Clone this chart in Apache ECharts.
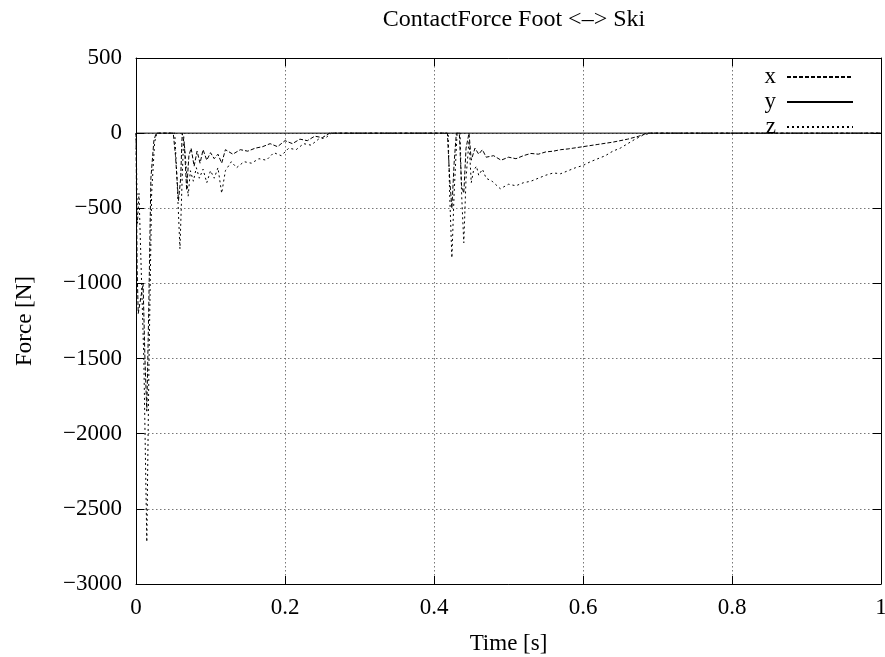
<!DOCTYPE html>
<html><head><meta charset="utf-8">
<script src="https://cdn.jsdelivr.net/npm/echarts@6/dist/echarts.min.js"></script>
<style>html,body{margin:0;padding:0;background:#fff}#c{width:885px;height:657px}</style>
</head><body><div id="c"></div>
<script>
var xSeries = [[0,0],[0.0015,-900],[0.003,-1200],[0.0095,-1000],[0.012,-1500],[0.0145,-1850],[0.017,-1200],[0.02,-300],[0.024,-50],[0.027,0],[0.05,0],
[0.053,-150],[0.057,-450],[0.06,-300],[0.062,0],[0.065,-80],[0.068,-380],[0.071,-150],[0.074,-100],[0.078,-220],[0.082,-120],[0.086,-200],[0.09,-110],[0.095,-180],[0.1,-130],[0.105,-170],[0.11,-140],[0.115,-200],[0.12,-110],[0.13,-140],[0.14,-110],[0.15,-120],[0.16,-100],[0.17,-90],[0.18,-70],[0.19,-90],[0.2,-50],[0.21,-70],[0.22,-40],[0.23,-50],[0.24,-20],[0.25,-30],[0.26,0],
[0.418,0],[0.421,-300],[0.424,-500],[0.427,-200],[0.43,0],[0.434,0],[0.437,-350],[0.44,-400],[0.443,-100],[0.447,0],[0.45,-180],[0.455,-100],[0.46,-140],[0.465,-110],[0.47,-160],[0.48,-150],[0.49,-180],[0.5,-160],[0.51,-170],[0.52,-150],[0.53,-135],[0.54,-140],[0.55,-125],[0.56,-120],[0.57,-110],[0.58,-105],[0.6,-90],[0.62,-75],[0.64,-60],[0.66,-40],[0.675,-20],[0.686,0],[1,0]];
var ySeries = [[0,0],[1,0]];
var zSeries = [[0,0],[0.002,-600],[0.004,-400],[0.0105,-1500],[0.0145,-2720],[0.0175,-1500],[0.021,-400],[0.025,-60],[0.028,0],[0.052,0],
[0.055,-300],[0.059,-770],[0.062,-300],[0.064,-20],[0.067,-200],[0.07,-420],[0.073,-250],[0.077,-320],[0.081,-230],[0.085,-300],[0.09,-240],[0.095,-330],[0.1,-250],[0.105,-300],[0.11,-230],[0.115,-400],[0.12,-250],[0.128,-190],[0.135,-230],[0.145,-190],[0.155,-200],[0.165,-170],[0.175,-180],[0.185,-130],[0.195,-150],[0.205,-100],[0.215,-110],[0.225,-70],[0.235,-80],[0.245,-40],[0.255,-30],[0.262,0],
[0.419,0],[0.421,-400],[0.424,-830],[0.427,-400],[0.431,0],[0.435,0],[0.437,-400],[0.44,-730],[0.443,-300],[0.447,-50],[0.45,-330],[0.453,-250],[0.457,-220],[0.46,-280],[0.465,-240],[0.47,-300],[0.478,-320],[0.489,-370],[0.5,-340],[0.51,-350],[0.52,-330],[0.53,-320],[0.54,-300],[0.55,-280],[0.56,-265],[0.57,-270],[0.58,-250],[0.59,-230],[0.6,-215],[0.61,-190],[0.62,-170],[0.63,-150],[0.64,-120],[0.65,-100],[0.66,-70],[0.67,-40],[0.68,-15],[0.69,0],[1,0]];
var seriesNames = ['x','y','z'];
var xTicks = [0,0.2,0.4,0.6,0.8,1];
var yTicks = [-3000,-2500,-2000,-1500,-1000,-500,0,500];

var FONT = 'Liberation Serif, Times New Roman, serif';
var FS = 23;
var chart = echarts.init(document.getElementById('c'));
var gridLine = {show:true,lineStyle:{color:'#777',type:[1.5,2.5],width:1}};
var axLine = {show:true,onZero:false,lineStyle:{color:'#000',width:1}};
var tick = {show:true,inside:true,length:8,lineStyle:{color:'#000'}};
chart.setOption({
  animation:false,
  title:{text:'ContactForce Foot <\u2013> Ski',left:509,textAlign:'center',top:3,textStyle:{fontFamily:FONT,fontSize:24,fontWeight:'normal',color:'#000'}},
  grid:{left:136,right:4,top:58,bottom:73,outerBoundsMode:'none',containLabel:false},
  legend:{orient:'vertical',right:26,top:60,itemGap:1,itemWidth:66,itemHeight:24,align:'right',
    itemStyle:{opacity:0},
    textStyle:{fontFamily:FONT,fontSize:FS,color:'#000',lineHeight:24,padding:[0,6,0,0]},data:seriesNames},
  xAxis:[{type:'value',min:0,max:1,interval:0.2,name:'Time [s]',nameLocation:'middle',nameGap:48,
    nameTextStyle:{fontFamily:FONT,fontSize:FS,color:'#000'},
    axisLine:axLine,axisTick:tick,splitLine:gridLine,
    axisLabel:{fontFamily:FONT,fontSize:FS,color:'#000',margin:12,formatter:function(v){return String(v);}}},
   {type:'value',position:'top',min:0,max:1,interval:0.2,axisLine:axLine,axisTick:tick,axisLabel:{show:false},splitLine:{show:false}}],
  yAxis:[{type:'value',min:-3000,max:500,interval:500,name:'Force [N]',nameLocation:'middle',nameGap:100,
    nameTextStyle:{fontFamily:FONT,fontSize:FS,color:'#000'},
    axisLine:axLine,axisTick:tick,splitLine:gridLine,
    axisLabel:{fontFamily:FONT,fontSize:FS,color:'#000',margin:14,formatter:function(v){return String(v).replace('-','\u2212');}}},
   {type:'value',position:'right',min:-3000,max:500,interval:500,axisLine:axLine,axisTick:tick,axisLabel:{show:false},splitLine:{show:false}}],
  series:[
    {name:'x',type:'line',data:xSeries,symbol:'none',lineStyle:{color:'#000',width:1,type:[4,2]},itemStyle:{color:'#000'}},
    {name:'y',type:'line',data:ySeries,symbol:'none',lineStyle:{color:'#000',width:1,type:'solid'},itemStyle:{color:'#000'}},
    {name:'z',type:'line',data:zSeries,symbol:'none',lineStyle:{color:'#000',width:1,type:[2,3]},itemStyle:{color:'#000'}}
  ]
});
</script></body></html>
